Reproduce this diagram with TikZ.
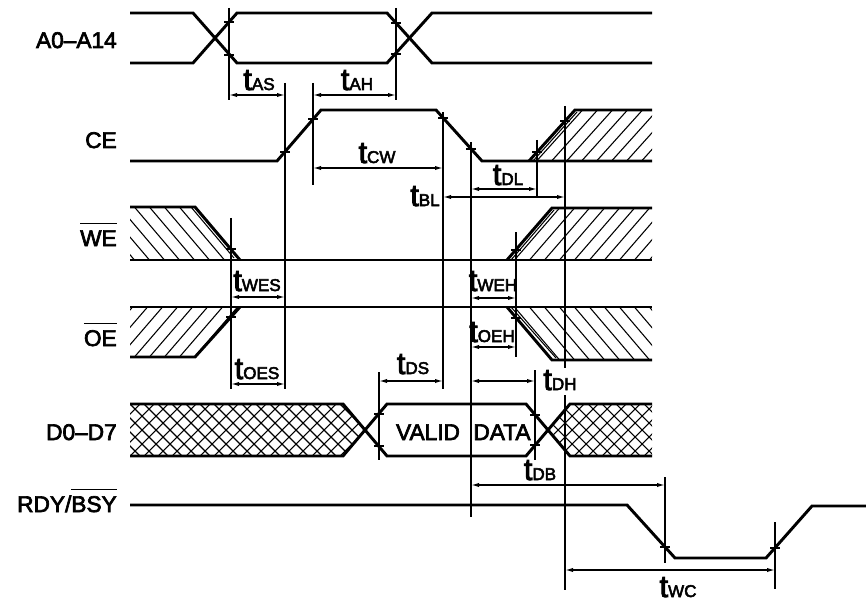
\documentclass[tikz,border=0pt]{standalone}
\usepackage{fontspec}
\setmainfont{Liberation Sans}[FakeBold=3]
\usetikzlibrary{arrows.meta}
\newcommand\tsym[1]{{\fontsize{23}{23}\selectfont t}{\fontsize{12.8}{12.8}\selectfont #1}}
\newcommand\ovl[1]{\leavevmode\vbox{\hrule height 0.9pt\kern 4.5pt\hbox{#1}}}
\begin{document}
\begin{tikzpicture}[x=0.75pt,y=-0.75pt,
  sig/.style={line width=2.2pt},
  vline/.style={line width=1pt},
  tickm/.style={line width=1pt},
  hatch/.style={line width=0.8pt},
  meas/.style={line width=1pt,{Latex[length=6pt,width=3.2pt]}-{Latex[length=6pt,width=3.2pt]}},
  lbl/.style={anchor=base east,inner sep=0pt,font=\fontsize{17}{18}\selectfont},
  tlbl/.style={anchor=base,inner sep=0pt},
  txt/.style={anchor=base,inner sep=0pt,font=\fontsize{17}{18}\selectfont}]
\useasboundingbox (0,0) rectangle (866,602);

% ---------------- signal names
\node[lbl] (nA) at (117,48) {A0–A14};
\node[lbl] (nCE) at (117,148) {CE};
\node[lbl] (nWE) at (117,246) {\ovl{WE}};
\node[lbl] (nOE) at (117,346) {\ovl{OE}};
\node[lbl] (nD) at (117,440) {D0–D7};
\node[lbl] (nR) at (117,512) {RDY/\ovl{BSY}};

% ---------------- hatching
% CE right ///
\begin{scope}
  \clip (529,161) -- (575,110) -- (652,110) -- (652,161) -- cycle;
  \foreach \k in {533,548,...,680} \draw[hatch] (\k,165) -- ++(54,-60);
\end{scope}
% WE left \\\
\begin{scope}
  \clip (130,207) -- (195,207) -- (240,260) -- (130,260) -- cycle;
  \foreach \k in {191,176,...,40} \draw[hatch] (\k,203) -- ++(51,60);
\end{scope}
% WE right ///
\begin{scope}
  \clip (507,260) -- (552,208) -- (652,208) -- (652,260) -- cycle;
  \foreach \k in {511,526,...,680} \draw[hatch] (\k,264) -- ++(52,-60);
\end{scope}
% OE left ///
\begin{scope}
  \clip (130,307) -- (240,307) -- (195,357) -- (130,357) -- cycle;
  \foreach \k in {191,176,...,40} \draw[hatch] (\k,361) -- ++(50,-58);
\end{scope}
% OE right \\\
\begin{scope}
  \clip (507,307) -- (652,307) -- (652,360) -- (552,360) -- cycle;
  \foreach \k in {511,526,...,680} \draw[hatch] (\k,303) -- ++(52,61);
\end{scope}
% D0-D7 cross hatch
\begin{scope}
  \clip (130,404) -- (343,404) -- (365,430) -- (343,456) -- (130,456) -- cycle;
  \foreach \k in {60,74,...,380} {\draw[hatch] (\k,404) -- ++(60,60); \draw[hatch] (\k,456) -- ++(60,-60);}
\end{scope}
\begin{scope}
  \clip (652,404) -- (570,404) -- (548,430) -- (570,456) -- (652,456) -- cycle;
  \foreach \k in {490,504,...,700} {\draw[hatch] (\k,404) -- ++(60,60); \draw[hatch] (\k,456) -- ++(60,-60);}
\end{scope}

% ---------------- signals
% A0-A14
\draw[sig] (130,13) -- (193,13) -- (237,63) -- (387,63) -- (432,13) -- (652,13);
\draw[sig] (130,63) -- (193,63) -- (237,13) -- (387,13) -- (432,63) -- (652,63);
% CE
\draw[sig] (130,161) -- (277,161) -- (321,110) -- (436,110) -- (482,161) -- (652,161);
\draw[sig] (529,161) -- (575,110) -- (652,110);
\draw[hatch] (533,161) -- (577,112);
% WE
\draw[sig] (130,207) -- (195,207) -- (240,260);
\draw[sig] (130,260) -- (652,260);
\draw[sig] (507,260) -- (552,208) -- (652,208);
\draw[hatch] (511,260) -- (554,210);
\draw[hatch] (191,207) -- (234,258);
% OE
\draw[sig] (130,307) -- (652,307);
\draw[sig] (130,357) -- (195,357) -- (240,307);
\draw[sig] (507,307) -- (552,360) -- (652,360);
\draw[hatch] (511,307) -- (556,358);
% D0-D7
\draw[sig] (130,404) -- (343,404) -- (387,456) -- (526,456) -- (570,404) -- (652,404);
\draw[sig] (130,456) -- (343,456) -- (387,404) -- (526,404) -- (570,456) -- (652,456);
\node[txt] (vd1) at (428,440) {VALID};
\node[txt] (vd2) at (502,440) {DATA};
% RDY/BSY
\draw[sig] (130,505) -- (627,505) -- (675,558) -- (766,558) -- (812,506) -- (866,506);

% ---------------- vertical reference lines
\draw[vline] (229,8) -- (229,100);
\draw[vline] (396,8) -- (396,100);
\draw[vline] (285,83) -- (285,389);
\draw[vline] (313,83) -- (313,185);
\draw[vline] (443,112) -- (443,389);
\draw[vline] (471,142) -- (471,517);
\draw[vline] (537,140) -- (537,198);
\draw[vline] (565,106) -- (565,368);
\draw[vline] (565,395) -- (565,590);
\draw[vline] (231,218) -- (231,389);
\draw[vline] (516,232) -- (516,357);
\draw[vline] (379,372) -- (379,460);
\draw[vline] (535,370) -- (535,460);
\draw[vline] (665,477) -- (665,563);
\draw[vline] (775,522) -- (775,589);

% ---------------- tick marks
\foreach \p in {(229,22),(229,55),(396,23),(396,54),
  (285,152),(313,119),(443,118),(471,149),(537,152),(565,121),
  (231,249),(516,250),(231,317),(516,318),
  (379,414),(379,446),(535,415),(535,445),
  (665,547),(775,548)}
  \draw[tickm] \p ++(-5,0) -- ++(10,0);

% ---------------- measurements
\draw[meas] (229,95) -- (285,95);
\node[tlbl] (tAS) at (259,90) {\tsym{AS}};
\draw[meas] (313,95) -- (396,95);
\node[tlbl] (tAH) at (357,90) {\tsym{AH}};
\draw[meas] (313,168) -- (443,168);
\node[tlbl] (tCW) at (377,163) {\tsym{CW}};
\draw[meas] (443,197) -- (565,197);
\node[tlbl] (tBL) at (425,206) {\tsym{BL}};
\draw[meas] (471,189) -- (537,189);
\node[tlbl] (tDL) at (508,185) {\tsym{DL}};
\draw[meas] (231,297) -- (285,297);
\node[tlbl] (tWES) at (257,291) {\tsym{WES}};
\draw[meas] (471,298) -- (516,298);
\node[tlbl] (tWEH) at (493,291) {\tsym{WEH}};
\draw[meas] (231,384) -- (285,384);
\node[tlbl] (tOES) at (257,379) {\tsym{OES}};
\draw[meas] (471,347) -- (516,347);
\node[tlbl] (tOEH) at (492,342) {\tsym{OEH}};
\draw[meas] (379,381) -- (443,381);
\node[tlbl] (tDS) at (413,374) {\tsym{DS}};
\draw[meas] (471,381) -- (535,381);
\node[tlbl] (tDH) at (560,390) {\tsym{DH}};
\draw[meas] (471,485) -- (665,485);
\node[tlbl] (tDB) at (540,480) {\tsym{DB}};
\draw[meas] (565,570) -- (775,570);
\node[tlbl] (tWC) at (678,597) {\tsym{WC}};
\end{tikzpicture}
\end{document}
